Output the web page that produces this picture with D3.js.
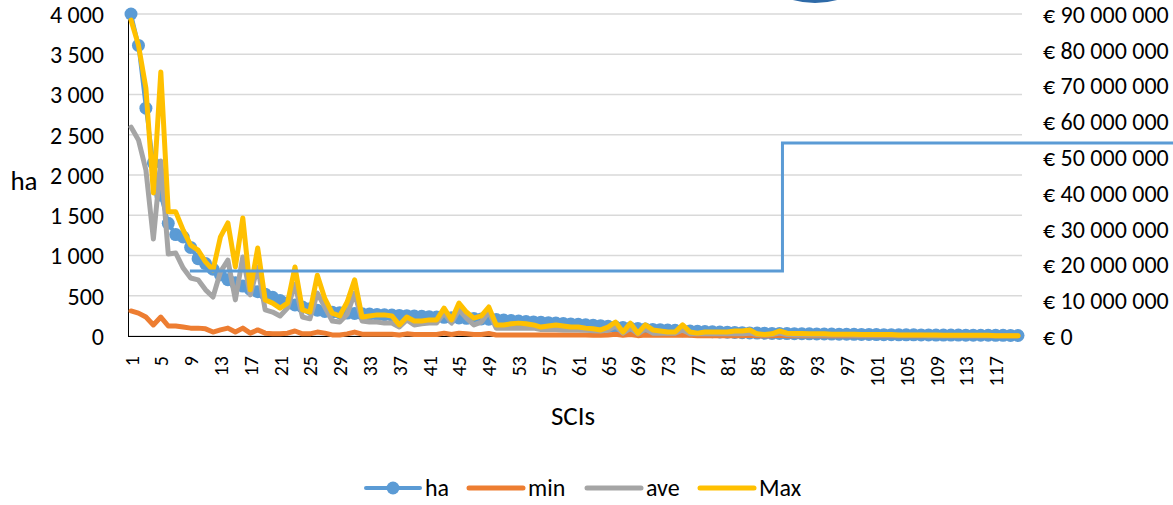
<!DOCTYPE html>
<html><head><meta charset="utf-8">
<script src="https://cdn.jsdelivr.net/npm/d3@7"></script>
<style>
html,body{margin:0;padding:0;background:#fff;}
svg text{font-family:Carlito,Lato,"Open Sans",sans-serif;fill:#000;}
</style></head>
<body><svg id="chart" width="1173" height="505"></svg>
<script>
// ---------- data ----------
const scis = d3.range(1, 121); // category labels 1..120 (SCI index)
const haValues = [4000,3610,2830,2150,1750,1400,1260,1230,1100,960,
 900,830,760,700,660,620,580,550,520,480,
 440,410,385,360,340,320,305,295,290,285,
 280,276,272,268,264,260,256,252,248,244,
 240,236,232,228,224,220,216,212,208,204,
 198,192,186,180,175,170,165,160,155,150,
 145,140,135,128,120,112,105,98,92,86,
 82,78,74,70,66,62,59,56,53,50,
 47,44,41,38,36,34,32,31,30,29,
 28,27,26,25,24,23,22,21,20,19,
 18,17,16,15,14,14,13,13,12,12,
 11,11,10,10,9,9,8,8,7,6];
// € millions
const minValues = [7.0,6.4,5.3,3.1,5.3,2.8,2.8,2.5,2.2,2.2,
 2.0,1.1,1.7,2.2,1.1,2.2,0.8,1.7,0.8,0.6,
 0.6,0.8,1.4,0.6,0.6,1.1,0.8,0.3,0.3,0.6,
 1.1,0.5,0.5,0.5,0.5,0.5,0.3,0.6,0.4,0.4,
 0.4,0.4,0.8,0.4,0.8,0.6,0.4,0.4,0.7,0.3,
 0.3,0.3,0.3,0.3,0.3,0.3,0.3,0.3,0.3,0.3,
 0.3,0.3,0.2,0.2,0.3,0.5,0.2,0.4,0.1,0.3,
 0.2,0.2,0.2,0.2,0.3,0.2,0.1,0.1,0.1,0.1,
 0.1,0.1,0.1,0.2,0.1,0.1,0.1,0.2,0.1,0.1,
 0.1,0.1,0.1,0.1,0.1,0.1,0.1,0.1,0.1,0.1,
 0.05,0.05,0.05,0.05,0.05,0.05,0.05,0.05,0.05,0.05,
 0.05,0.05,0.05,0.05,0.05,0.05,0.05,0.05,0.05,0.05];
const aveValues = [58.4,54.8,46.4,27.1,48.9,22.9,23.2,19.0,16.2,15.7,
 12.9,10.9,17.9,21.2,10.1,22.1,11.5,19.3,7.3,6.7,
 5.6,7.8,14.5,5.3,4.8,12.0,8.1,4.2,3.9,6.1,
 12.0,4.2,3.9,3.9,3.6,3.6,2.5,4.5,3.1,3.4,
 3.6,3.6,6.4,3.6,7.3,5.0,3.1,3.9,6.7,2.2,
 2.2,2.2,2.2,2.2,2.2,1.8,1.8,1.8,1.7,1.7,
 1.7,1.6,1.5,1.4,1.7,2.8,0.8,2.2,0.6,2.0,
 0.8,0.8,0.8,0.8,1.7,0.6,0.6,0.6,0.6,0.6,
 0.6,0.6,0.6,0.8,0.4,0.3,0.4,0.8,0.4,0.3,
 0.3,0.3,0.3,0.3,0.3,0.3,0.3,0.2,0.2,0.2,
 0.2,0.2,0.2,0.2,0.2,0.2,0.2,0.1,0.1,0.1,
 0.1,0.1,0.1,0.1,0.1,0.1,0.05,0.05,0.05,0.05];
const maxValues = [88.3,81.3,69.3,40.0,73.8,34.7,34.7,29.6,25.4,24.0,
 20.7,18.4,27.7,31.6,19.3,33.0,12.9,24.6,10.1,9.2,
 7.8,9.2,19.3,7.3,6.7,17.0,10.5,6.4,5.6,9.5,
 15.7,5.3,5.6,5.9,5.9,5.6,3.1,5.3,4.2,4.2,
 4.5,4.5,7.8,4.5,9.2,6.7,5.0,5.6,8.1,3.1,
 3.1,3.4,3.6,3.4,3.1,2.5,2.8,3.1,2.8,2.5,
 2.5,2.2,2.0,1.7,2.5,3.9,1.1,3.6,0.8,3.1,
 1.7,1.4,1.1,1.1,3.1,1.1,0.8,1.1,1.1,1.1,
 1.1,1.4,1.4,1.7,0.6,0.4,0.6,1.4,0.8,0.7,
 0.7,0.6,0.6,0.6,0.5,0.5,0.5,0.5,0.4,0.4,
 0.4,0.4,0.4,0.3,0.3,0.3,0.3,0.3,0.3,0.2,
 0.2,0.2,0.2,0.2,0.2,0.2,0.1,0.1,0.1,0.1];
const xTickLabels = [1,5,9,13,17,21,25,29,33,37,41,45,49,53,57,61,65,69,73,77,81,85,89,93,97,101,105,109,113,117];
const leftTicks = [0,500,1000,1500,2000,2500,3000,3500,4000];
const rightTicks = [0,10,20,30,40,50,60,70,80,90]; // € millions
const seriesNames = ["ha","min","ave","Max"];
// elbow connector annotation in data units [SCI, ha]
const connector = [[8.9,807],[88.4,807],[88.4,2398],[148.9,2398]];

// ---------- chart ----------
const svg = d3.select("#chart");
const colors = {ha:"#5b9bd5",min:"#ed7d31",ave:"#a5a5a5",Max:"#ffc000"};
const x = d3.scalePoint().domain(scis).range([131,1018]);
const xLin = d3.scaleLinear().domain([1,120]).range([131,1018]);
const yL = d3.scaleLinear().domain([0,4000]).range([336,14]);
const yR = d3.scaleLinear().domain([0,90]).range([336,14]);
const loc = d3.formatLocale({decimal:",",thousands:"\u00a0",grouping:[3],currency:["€ ",""]});
const fmt = loc.format(",d");

// gridlines
svg.append("g").selectAll("line").data(leftTicks).join("line")
  .attr("x1",128).attr("x2",1022).attr("y1",d=>yL(d)).attr("y2",d=>yL(d))
  .attr("stroke","#d9d9d9").attr("stroke-width",1.5);

// left axis
const gL = svg.append("g").attr("transform","translate(128,0)")
  .call(d3.axisLeft(yL).tickValues(leftTicks).tickSize(0).tickPadding(24).tickFormat(d=>fmt(d)));
gL.select(".domain").attr("stroke","#000").attr("stroke-width",1);
gL.selectAll("text").attr("font-size",24).attr("dy","0.35em");

// right axis
const gR = svg.append("g").attr("transform","translate(1022,0)")
  .call(d3.axisRight(yR).tickValues(rightTicks).tickSize(0).tickPadding(21).tickFormat(d=>"€ "+fmt(d*1e6)));
gR.select(".domain").remove();
gR.selectAll("text").attr("font-size",24).attr("dy","0.35em");

// bottom axis
const gB = svg.append("g").attr("transform","translate(0,336)")
  .call(d3.axisBottom(x).tickValues(xTickLabels).tickSize(0).tickPadding(0));
gB.select(".domain").attr("d","M128,0.5H1022").attr("stroke","#000").attr("stroke-width",1);
gB.selectAll("text").attr("font-size",20).attr("text-anchor","end")
  .attr("transform","translate(0,20) rotate(-90)").attr("dx",0).attr("dy","0.35em").attr("y",0);

// axis titles
svg.append("text").attr("x",24).attr("y",190).attr("text-anchor","middle").attr("font-size",27).text("ha");
svg.append("text").attr("x",573).attr("y",425).attr("text-anchor","middle").attr("font-size",27).text("SCIs");

// series
const line = (scale) => d3.line().x((d,i)=>x(scis[i])).y(d=>scale(d)).curve(d3.curveLinear);
const g = svg.append("g");
g.append("path").datum(haValues).attr("d",line(yL)).attr("fill","none").attr("stroke",colors.ha).attr("stroke-width",4).attr("stroke-linejoin","round").attr("stroke-linecap","round");
g.append("g").selectAll("circle").data(haValues).join("circle")
  .attr("cx",(d,i)=>x(scis[i])).attr("cy",d=>yL(d)).attr("r",6.5).attr("fill",colors.ha);
[["min",minValues],["ave",aveValues],["Max",maxValues]].forEach(([k,v])=>{
  g.append("path").datum(v).attr("d",line(yR)).attr("fill","none").attr("stroke",colors[k])
   .attr("stroke-width",5).attr("stroke-linejoin","round").attr("stroke-linecap","round");
});

// annotation shapes
svg.append("path").datum(connector)
  .attr("d",d3.line().x(d=>xLin(d[0])).y(d=>yL(d[1])))
  .attr("fill","none").attr("stroke","#5b9bd5").attr("stroke-width",3);
svg.append("circle").attr("cx",815).attr("cy",-80).attr("r",81)
  .attr("fill","none").attr("stroke","#2e6aa8").attr("stroke-width",4);

// legend
const legendX = [366,469,587,700];
const lg = svg.append("g").attr("transform","translate(0,488)");
seriesNames.forEach((n,i)=>{
  const gx = legendX[i];
  lg.append("line").attr("x1",gx).attr("x2",gx+54).attr("y1",0).attr("y2",0)
    .attr("stroke",colors[n]).attr("stroke-width",n==="ha"?4:5).attr("stroke-linecap","round");
  if(n==="ha") lg.append("circle").attr("cx",gx+27).attr("cy",0).attr("r",6.5).attr("fill",colors.ha);
  lg.append("text").attr("x",gx+59).attr("y",0).attr("dy","0.35em").attr("font-size",24).text(n);
});
</script></body></html>
